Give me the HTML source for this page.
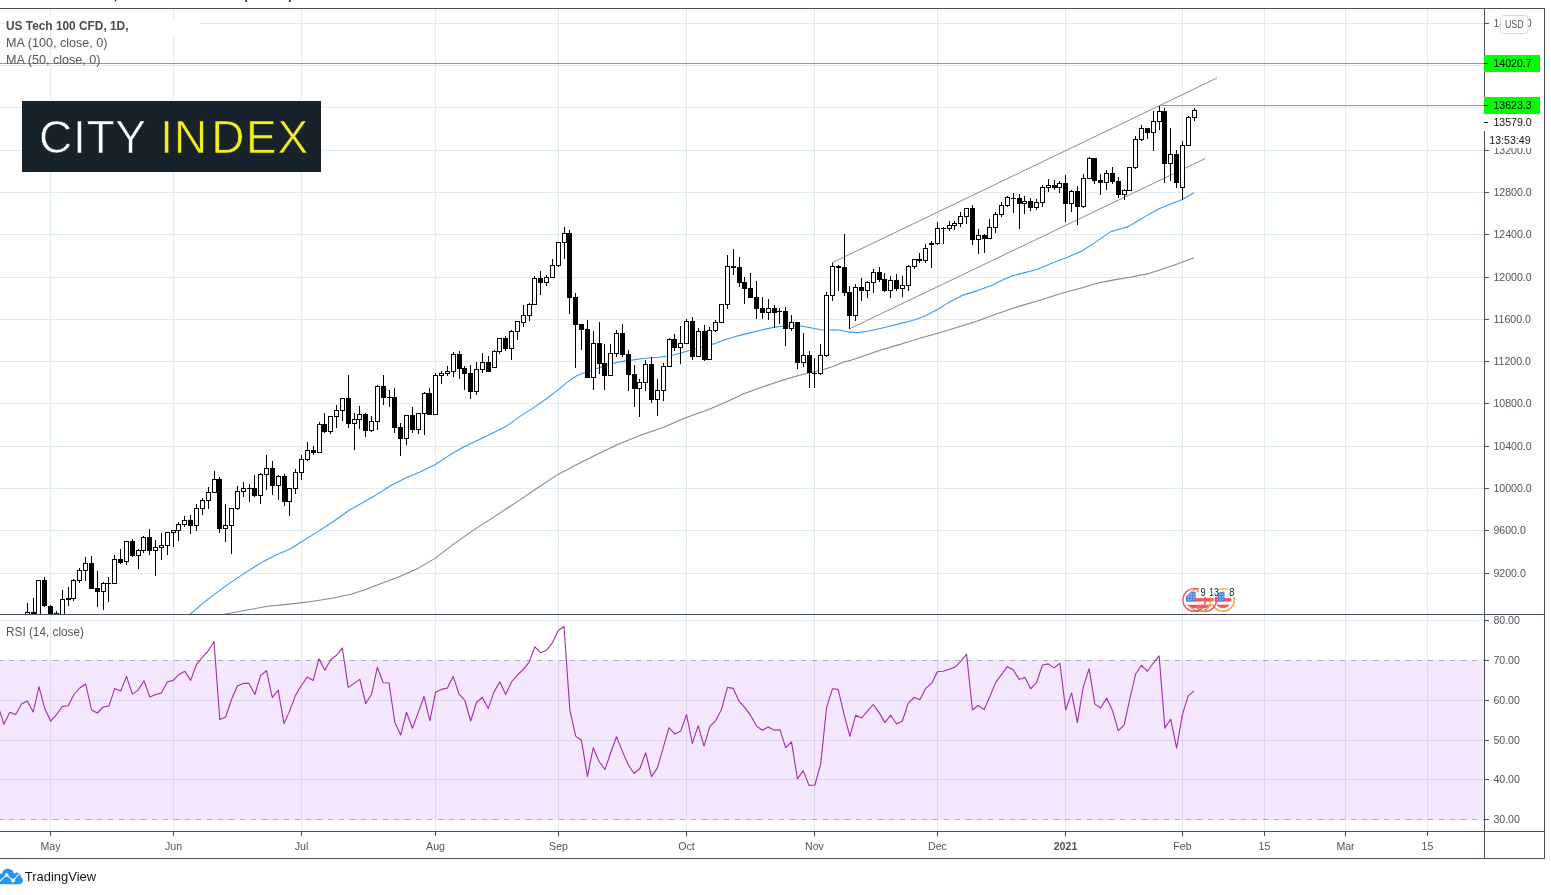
<!DOCTYPE html>
<html><head><meta charset="utf-8"><title>US Tech 100 CFD chart</title>
<style>html,body{margin:0;padding:0;background:#fff}body{width:1551px;height:895px;overflow:hidden}</style></head>
<body>
<svg width="1551" height="895" viewBox="0 0 1551 895" style="display:block;font-family:'Liberation Sans','DejaVu Sans',sans-serif">
<rect width="1551" height="895" fill="#fff"/>
<defs>
<clipPath id="cm"><rect x="0" y="8.5" width="1484.5" height="606.0"/></clipPath>
<clipPath id="cr"><rect x="0" y="614.5" width="1484.5" height="217.0"/></clipPath>
</defs>
<text x="117.5" y="-0.6" font-size="15" font-weight="bold" fill="#222" text-anchor="end">FOREXCOM:NSXUSD,</text>
<text x="243.5" y="-0.6" font-size="15" font-weight="bold" fill="#222" textLength="49" lengthAdjust="spacingAndGlyphs">(+0.97%)</text>
<path d="M50.5 8.5V831.5 M173.5 8.5V831.5 M301.5 8.5V831.5 M435.5 8.5V831.5 M558.5 8.5V831.5 M686.5 8.5V831.5 M814.5 8.5V831.5 M937.5 8.5V831.5 M1065.5 8.5V831.5 M1182.5 8.5V831.5 M1264.5 8.5V831.5 M1345.5 8.5V831.5 M1427.5 8.5V831.5 M0 573.5H1484.5 M0 530.5H1484.5 M0 488.5H1484.5 M0 446.5H1484.5 M0 403.5H1484.5 M0 361.5H1484.5 M0 319.5H1484.5 M0 277.5H1484.5 M0 234.5H1484.5 M0 192.5H1484.5 M0 150.5H1484.5 M0 107.5H1484.5 M0 65.5H1484.5 M0 23.5H1484.5 M0 620.5H1484.5 M0 700.5H1484.5 M0 740.5H1484.5 M0 779.5H1484.5" stroke="#e1ecf2" stroke-width="1" fill="none" shape-rendering="crispEdges"/>
<rect x="0" y="660.5" width="1484.5" height="159.0" fill="rgba(170,60,240,0.12)"/>
<path d="M0 660.5H1484.5M0 819.5H1484.5" stroke="#e1ecf2" stroke-width="1" fill="none" shape-rendering="crispEdges"/>
<path d="M0 660.5H1484.5M0 819.5H1484.5" stroke="#b0a8b6" stroke-width="1" stroke-dasharray="5 6" stroke-dashoffset="2" fill="none" shape-rendering="crispEdges"/>
<g clip-path="url(#cm)">
<path d="M832 262.8L1217 78 M850 328.6L1205.4 158.5" stroke="#8c8c8c" stroke-width="1" fill="none"/>
<path d="M0 63.5H1485 M1160 105.5H1485" stroke="#00ff00" stroke-width="1" fill="none" shape-rendering="crispEdges"/>
<path d="M219.0 615.2 L245.8 610.3 L267.7 606.3 L289.6 604.1 L311.5 601.5 L333.4 598.0 L351.0 594.3 L366.3 589.2 L381.7 583.3 L399.2 576.7 L416.7 569.1 L435.4 558.1 L454.0 543.9 L471.6 531.4 L491.3 518.6 L508.8 507.2 L518.1 501.1 L536.2 488.8 L558.8 473.9 L576.0 464.9 L595.9 454.9 L617.6 444.6 L641.2 435.0 L662.9 427.4 L686.4 417.5 L708.1 409.7 L726.2 402.1 L744.3 393.4 L760.5 387.7 L778.7 381.4 L796.8 376.0 L807.6 373.3 L820.3 370.5 L833.0 366.4 L843.9 362.0 L850.0 360.6 L860.0 357.2 L880.0 350.2 L900.0 344.4 L910.0 341.2 L925.0 336.8 L937.8 333.2 L955.9 327.7 L977.6 320.9 L995.7 314.2 L1010.2 309.3 L1018.8 306.4 L1039.1 300.5 L1062.6 293.0 L1081.4 288.0 L1097.0 283.3 L1112.7 280.1 L1129.9 277.3 L1147.1 273.9 L1164.3 268.4 L1181.5 262.6 L1194.0 257.8" stroke="#85878f" stroke-width="1.1" fill="none" stroke-linejoin="round"/>
<path d="M189.9 614.5 L201.9 604.1 L217.3 592.1 L232.6 581.1 L245.8 572.4 L263.3 561.4 L276.5 554.8 L289.6 549.3 L301.7 541.7 L315.9 532.9 L333.4 521.5 L348.8 510.5 L361.9 502.9 L375.1 495.6 L390.4 485.8 L405.8 478.1 L421.1 471.5 L435.4 464.5 L449.6 455.1 L465.0 446.3 L482.5 438.0 L497.9 430.5 L506.6 426.1 L520.0 416.4 L533.4 407.9 L546.8 398.5 L558.4 389.6 L566.9 382.4 L575.9 376.2 L582.6 373.3 L589.3 371.3 L598.2 367.9 L609.4 364.3 L618.3 362.1 L631.7 360.1 L645.1 358.3 L658.5 357.2 L670.0 355.7 L680.9 353.0 L691.7 349.7 L702.6 347.0 L713.5 343.9 L724.3 340.1 L737.0 336.1 L749.7 332.9 L764.2 329.4 L775.0 327.1 L782.3 326.2 L796.8 325.8 L804.0 326.5 L813.0 328.3 L820.3 329.8 L827.6 330.2 L834.8 329.8 L842.0 330.2 L847.2 331.9 L858.1 332.6 L869.0 331.0 L883.5 327.7 L898.0 324.1 L912.4 320.5 L925.1 316.0 L937.8 309.3 L948.7 302.4 L963.1 295.1 L977.6 290.6 L992.1 285.2 L1003.0 279.7 L1012.5 275.8 L1025.0 272.6 L1037.6 269.2 L1051.6 263.2 L1065.7 257.9 L1081.4 251.2 L1093.9 243.4 L1103.3 236.6 L1111.1 231.6 L1118.9 229.3 L1128.3 226.6 L1137.7 221.0 L1148.6 214.4 L1159.6 208.6 L1172.1 203.5 L1182.3 199.6 L1194.0 192.8" stroke="#3a9af0" stroke-width="1.1" fill="none" stroke-linejoin="round"/>
<path d="M27.5 603V618.0 M33.5 598V618.0 M38.5 580V618.0 M44.5 577V607 M50.5 605V618.0 M56.5 611V618.0 M62.5 590V618.0 M68.5 587V606 M73.5 579V601 M79.5 568V583 M85.5 557V581 M91.5 556V589 M97.5 571V607 M103.5 582V610 M108.5 577V602 M114.5 555V584.0 M120.5 549V564 M126.5 541V565 M132.5 539V557 M138.5 549V569 M143.5 536V553 M149.5 529V555 M155.5 540V576 M161.5 533V560 M167.5 532V555 M173.5 530V547 M178.5 522V541 M184.5 516V527 M190.5 515V534 M196.5 504V531 M202.5 498V515 M208.5 487V509 M214.5 471V493.0 M219.5 477V533 M225.5 504V542 M231.5 508V554 M237.5 486V510 M243.5 482V497 M249.5 484V502 M254.5 475V497 M260.5 473V504 M266.5 455V490 M272.5 461V495 M278.5 475V500 M284.5 474V506 M289.5 488V516 M295.5 469V494 M301.5 455V480 M307.5 442V461 M313.5 446V455 M319.5 422V453.0 M324.5 413V433 M330.5 416V434 M336.5 405V428 M342.5 398V421 M348.5 375V428 M354.5 413V450 M359.5 406V429 M365.5 413V437 M371.5 416V432 M377.5 385V430 M383.5 375V405 M389.5 390V407 M394.5 388V433 M400.5 423V456 M406.5 415V445 M412.5 407V433 M418.5 413.0V434 M424.5 392V435 M429.5 388V415.0 M435.5 373V415.0 M441.5 371V384 M447.5 366V376 M453.5 352V377 M459.5 351V379 M464.5 366V390 M470.5 365V399 M476.5 362V395 M482.5 353V373 M488.5 356V372 M494.5 350V368 M499.5 338V354 M505.5 336V351 M511.5 330V360 M517.5 321V340 M523.5 305V327 M529.5 303V321 M534.5 276V305 M540.5 271V295 M546.5 275V286 M552.5 259V278.0 M558.5 242V267 M564.5 227V259 M569.5 230V314 M575.5 293V368 M581.5 324V350 M587.5 320V378 M593.5 331V390 M599.5 322V374 M604.5 344V390 M610.5 344V376 M616.5 330V357 M622.5 324V357 M628.5 350V391 M634.5 365V407 M639.5 379V417 M645.5 360V391 M651.5 357V403 M657.5 379V416 M663.5 363V401 M669.5 338V367 M674.5 334V351 M680.5 326V364 M686.5 319V344.0 M692.5 317V360 M698.5 328V357 M704.5 325V361 M709.5 327V360 M715.5 320V332 M721.5 304V323 M727.5 255V309 M733.5 249V275 M739.5 257V287 M744.5 277V304 M750.5 273V298 M756.5 281V319 M762.5 297V319 M768.5 299V320 M774.5 305V328 M779.5 308V324 M785.5 307V346 M791.5 315V331 M797.5 322V369 M803.5 333V367 M809.5 351V388 M814.5 358V388 M820.5 344V375 M826.5 292V357 M832.5 263V301 M838.5 265V291 M844.5 234V296 M849.5 286V329 M855.5 284V321 M861.5 278V301 M867.5 281V298 M873.5 269V293 M879.5 267V282 M884.5 273V292 M890.5 276V298 M896.5 274V291 M902.5 276V297 M908.5 265V291 M914.5 259V269 M919.5 253V263 M925.5 244V263 M931.5 241V268 M937.5 222V245 M943.5 227V244 M949.5 221V231 M954.5 221V230 M960.5 212V227 M966.5 208V224 M972.5 205V245 M978.5 229V254 M984.5 234V253 M989.5 219V239 M995.5 212V233 M1001.5 202V217 M1007.5 196V207 M1013.5 193V213 M1019.5 194V229 M1024.5 196V214 M1030.5 198V211 M1036.5 199V210 M1042.5 185V207 M1048.5 179V192 M1054.5 180V190 M1059.5 181V193 M1065.5 175V222 M1071.5 190V212 M1077.5 186V225 M1083.5 174V208 M1089.5 157V179 M1094.5 158V184 M1100.5 174V195 M1106.5 170V190 M1112.5 167V184 M1118.5 177V198 M1124.5 189V200 M1129.5 167V191 M1135.5 136V169 M1141.5 125V141 M1147.5 128V139 M1153.5 111V151 M1159.5 106V130 M1164.5 108V183 M1170.5 128V181 M1176.5 150V188 M1182.5 141V200 M1188.5 116V146.0 M1194.5 108V121" stroke="#000" stroke-width="1" fill="none" shape-rendering="crispEdges"/>
<path d="M106.0 583.5h5 M247.0 488.5h5 M387.0 397.5h5 M777.0 311.5h5 M812.0 373.5h5 M941.0 228.5h5 M1011.0 198.5h5" stroke="#000" stroke-width="1" fill="none" shape-rendering="crispEdges"/>
<path d="M25.5 612.5h4v5.0h-4z M36.5 580.5h4v37.0h-4z M60.5 599.5h4v18.0h-4z M71.5 580.5h4v18.0h-4z M77.5 570.5h4v10.0h-4z M83.5 563.5h4v7.0h-4z M101.5 583.5h4v8.0h-4z M112.5 559.5h4v24.0h-4z M124.5 541.5h4v20.0h-4z M136.5 550.5h4v5.0h-4z M141.5 537.5h4v13.0h-4z M153.5 547.5h4v3.0h-4z M159.5 545.5h4v2.0h-4z M165.5 532.5h4v13.0h-4z M171.5 530.5h4v2.0h-4z M176.5 524.5h4v6.0h-4z M182.5 520.5h4v4.0h-4z M194.5 508.5h4v17.0h-4z M200.5 500.5h4v8.0h-4z M206.5 492.5h4v8.0h-4z M212.5 479.5h4v13.0h-4z M223.5 525.5h4v3.0h-4z M229.5 508.5h4v17.0h-4z M235.5 491.5h4v17.0h-4z M241.5 488.5h4v3.0h-4z M258.5 474.5h4v21.0h-4z M264.5 468.5h4v6.0h-4z M276.5 476.5h4v9.0h-4z M287.5 488.5h4v13.0h-4z M293.5 472.5h4v16.0h-4z M299.5 459.5h4v13.0h-4z M305.5 450.5h4v9.0h-4z M317.5 424.5h4v28.0h-4z M328.5 416.5h4v15.0h-4z M334.5 410.5h4v6.0h-4z M340.5 398.5h4v12.0h-4z M352.5 419.5h4v4.0h-4z M357.5 414.5h4v5.0h-4z M369.5 421.5h4v9.0h-4z M375.5 386.5h4v35.0h-4z M404.5 415.5h4v23.0h-4z M416.5 413.5h4v16.0h-4z M422.5 393.5h4v20.0h-4z M433.5 375.5h4v39.0h-4z M439.5 373.5h4v2.0h-4z M445.5 371.5h4v2.0h-4z M451.5 354.5h4v17.0h-4z M474.5 369.5h4v22.0h-4z M480.5 362.5h4v7.0h-4z M492.5 351.5h4v16.0h-4z M497.5 338.5h4v13.0h-4z M509.5 331.5h4v17.0h-4z M515.5 321.5h4v10.0h-4z M521.5 315.5h4v7.0h-4z M527.5 304.5h4v11.0h-4z M532.5 278.5h4v26.0h-4z M544.5 277.5h4v5.0h-4z M550.5 265.5h4v12.0h-4z M556.5 242.5h4v23.0h-4z M562.5 233.5h4v9.0h-4z M591.5 343.5h4v34.0h-4z M608.5 353.5h4v22.0h-4z M614.5 333.5h4v20.0h-4z M637.5 382.5h4v6.0h-4z M643.5 364.5h4v18.0h-4z M655.5 390.5h4v9.0h-4z M661.5 366.5h4v24.0h-4z M667.5 339.5h4v27.0h-4z M678.5 343.5h4v4.0h-4z M684.5 321.5h4v22.0h-4z M696.5 331.5h4v25.0h-4z M707.5 330.5h4v29.0h-4z M713.5 322.5h4v8.0h-4z M719.5 304.5h4v18.0h-4z M725.5 266.5h4v38.0h-4z M766.5 308.5h4v4.0h-4z M789.5 322.5h4v6.0h-4z M801.5 355.5h4v7.0h-4z M818.5 355.5h4v18.0h-4z M824.5 295.5h4v60.0h-4z M830.5 266.5h4v29.0h-4z M853.5 287.5h4v28.0h-4z M865.5 282.5h4v8.0h-4z M871.5 272.5h4v10.0h-4z M888.5 280.5h4v10.0h-4z M900.5 285.5h4v3.0h-4z M906.5 266.5h4v19.0h-4z M912.5 259.5h4v7.0h-4z M923.5 248.5h4v12.0h-4z M935.5 228.5h4v15.0h-4z M947.5 225.5h4v3.0h-4z M952.5 223.5h4v2.0h-4z M958.5 216.5h4v7.0h-4z M964.5 208.5h4v8.0h-4z M976.5 235.5h4v4.0h-4z M987.5 227.5h4v11.0h-4z M993.5 214.5h4v13.0h-4z M999.5 205.5h4v9.0h-4z M1005.5 197.5h4v8.0h-4z M1022.5 201.5h4v2.0h-4z M1034.5 202.5h4v5.0h-4z M1040.5 187.5h4v15.0h-4z M1046.5 185.5h4v2.0h-4z M1057.5 183.5h4v4.0h-4z M1069.5 191.5h4v12.0h-4z M1081.5 178.5h4v28.0h-4z M1087.5 158.5h4v20.0h-4z M1104.5 173.5h4v9.0h-4z M1122.5 190.5h4v4.0h-4z M1127.5 167.5h4v23.0h-4z M1133.5 139.5h4v28.0h-4z M1139.5 128.5h4v11.0h-4z M1151.5 121.5h4v11.0h-4z M1157.5 111.5h4v10.0h-4z M1168.5 154.5h4v9.0h-4z M1180.5 145.5h4v42.0h-4z M1186.5 117.5h4v28.0h-4z M1192.5 110.5h4v7.0h-4z" stroke="#000" stroke-width="1" fill="#fff" shape-rendering="crispEdges"/>
<path d="M31.5 612.5h4v5.0h-4z M42.5 580.5h4v25.0h-4z M48.5 606.5h4v11.0h-4z M54.5 613.5h4v4.0h-4z M66.5 598.5h4v1.0h-4z M89.5 563.5h4v25.0h-4z M95.5 588.5h4v3.0h-4z M118.5 559.5h4v3.0h-4z M130.5 541.5h4v14.0h-4z M147.5 537.5h4v13.0h-4z M188.5 520.5h4v5.0h-4z M217.5 479.5h4v49.0h-4z M252.5 488.5h4v7.0h-4z M270.5 468.5h4v17.0h-4z M282.5 476.5h4v25.0h-4z M311.5 450.5h4v2.0h-4z M322.5 424.5h4v7.0h-4z M346.5 398.5h4v25.0h-4z M363.5 414.5h4v16.0h-4z M381.5 386.5h4v11.0h-4z M392.5 397.5h4v30.0h-4z M398.5 427.5h4v11.0h-4z M410.5 415.5h4v14.0h-4z M427.5 393.5h4v21.0h-4z M457.5 354.5h4v14.0h-4z M462.5 368.5h4v5.0h-4z M468.5 373.5h4v18.0h-4z M486.5 362.5h4v9.0h-4z M503.5 338.5h4v10.0h-4z M538.5 278.5h4v4.0h-4z M567.5 233.5h4v64.0h-4z M573.5 297.5h4v27.0h-4z M579.5 324.5h4v5.0h-4z M585.5 329.5h4v48.0h-4z M597.5 343.5h4v20.0h-4z M602.5 363.5h4v12.0h-4z M620.5 333.5h4v21.0h-4z M626.5 354.5h4v20.0h-4z M632.5 374.5h4v14.0h-4z M649.5 364.5h4v35.0h-4z M672.5 339.5h4v8.0h-4z M690.5 321.5h4v35.0h-4z M702.5 331.5h4v28.0h-4z M731.5 266.5h4v1.0h-4z M737.5 267.5h4v15.0h-4z M742.5 282.5h4v6.0h-4z M748.5 288.5h4v9.0h-4z M754.5 297.5h4v11.0h-4z M760.5 308.5h4v4.0h-4z M772.5 308.5h4v4.0h-4z M783.5 311.5h4v17.0h-4z M795.5 322.5h4v40.0h-4z M807.5 355.5h4v17.0h-4z M836.5 266.5h4v1.0h-4z M842.5 267.5h4v25.0h-4z M847.5 292.5h4v23.0h-4z M859.5 287.5h4v3.0h-4z M877.5 272.5h4v7.0h-4z M882.5 279.5h4v11.0h-4z M894.5 280.5h4v8.0h-4z M917.5 259.5h4v1.0h-4z M929.5 243.5h4v1.0h-4z M970.5 208.5h4v31.0h-4z M982.5 235.5h4v3.0h-4z M1017.5 198.5h4v5.0h-4z M1028.5 201.5h4v6.0h-4z M1052.5 185.5h4v2.0h-4z M1063.5 183.5h4v20.0h-4z M1075.5 191.5h4v15.0h-4z M1092.5 158.5h4v22.0h-4z M1098.5 180.5h4v2.0h-4z M1110.5 173.5h4v8.0h-4z M1116.5 181.5h4v13.0h-4z M1145.5 128.5h4v4.0h-4z M1162.5 111.5h4v52.0h-4z M1174.5 154.5h4v28.0h-4z" stroke="#000" stroke-width="1" fill="#000" shape-rendering="crispEdges"/>
</g>
<g clip-path="url(#cr)">
<path d="M-1.8 706.5 L4.0 724.3 L9.8 712.2 L15.7 714.6 L21.5 704.1 L27.3 701.1 L33.2 712.0 L39.0 686.8 L44.8 708.6 L50.7 721.2 L56.5 714.6 L62.3 706.5 L68.2 705.7 L74.0 694.5 L79.8 688.0 L85.7 684.0 L91.5 710.0 L97.3 713.0 L103.2 707.0 L109.0 705.9 L114.8 688.4 L120.7 691.1 L126.5 676.4 L132.3 694.1 L138.2 690.1 L144.0 680.8 L149.8 696.9 L155.7 694.5 L161.5 692.9 L167.3 682.0 L173.2 680.4 L179.0 674.4 L184.8 671.3 L190.7 680.4 L196.5 664.3 L202.3 657.3 L208.2 650.8 L214.0 641.8 L219.8 719.6 L225.7 717.0 L231.5 699.5 L237.3 686.0 L243.2 683.4 L249.0 683.4 L254.8 694.5 L260.7 675.4 L266.5 670.7 L272.3 697.5 L278.2 690.1 L284.0 723.6 L289.8 710.6 L295.7 694.9 L301.5 685.2 L307.3 677.0 L313.2 680.4 L319.0 658.7 L324.8 670.3 L330.7 659.7 L336.5 655.3 L342.3 647.8 L348.2 687.4 L354.0 683.4 L359.8 679.4 L365.7 703.5 L371.5 694.5 L377.3 667.3 L383.2 682.8 L389.0 683.0 L394.8 722.2 L400.7 735.1 L406.5 712.2 L412.4 728.3 L418.2 712.6 L424.0 696.5 L429.9 720.6 L435.7 691.9 L441.5 689.4 L447.4 688.0 L453.2 676.4 L459.0 694.1 L464.9 700.5 L470.7 721.0 L476.5 702.5 L482.4 697.5 L488.2 708.6 L494.0 691.9 L499.9 681.8 L505.7 694.5 L511.5 682.0 L517.4 675.0 L523.2 669.7 L529.0 662.3 L534.9 646.8 L540.7 652.8 L546.5 650.2 L552.4 642.8 L558.2 630.5 L564.0 626.5 L569.9 710.6 L575.7 736.1 L581.5 740.3 L587.4 776.6 L593.2 747.8 L599.0 761.3 L604.9 769.5 L610.7 752.8 L616.5 736.7 L622.4 751.4 L628.2 764.5 L634.0 773.5 L639.9 768.5 L645.7 752.8 L651.5 776.6 L657.4 767.9 L663.2 747.8 L669.0 727.7 L674.9 734.1 L680.7 731.1 L686.5 714.6 L692.4 743.4 L698.2 725.7 L704.0 746.2 L709.9 726.3 L715.7 720.6 L721.5 709.6 L727.4 687.4 L733.2 688.4 L739.0 701.1 L744.9 707.6 L750.7 715.6 L756.5 726.1 L762.4 730.3 L768.2 727.1 L774.0 730.1 L779.9 729.7 L785.7 747.8 L791.5 741.8 L797.4 778.6 L803.2 770.9 L809.0 785.4 L814.9 785.0 L820.7 763.9 L826.6 707.6 L832.4 688.8 L838.2 689.4 L844.1 714.6 L849.9 736.3 L855.7 715.2 L861.6 718.0 L867.4 711.2 L873.2 704.5 L879.1 712.6 L884.9 722.6 L890.7 715.2 L896.6 724.0 L902.4 721.0 L908.2 703.1 L914.1 697.5 L919.9 699.5 L925.7 688.4 L931.6 683.4 L937.4 671.7 L943.2 671.3 L949.1 669.3 L954.9 667.3 L960.7 661.3 L966.6 654.2 L972.4 710.0 L978.2 705.5 L984.1 709.6 L989.9 696.5 L995.7 682.4 L1001.6 674.4 L1007.4 666.7 L1013.2 669.7 L1019.1 679.4 L1024.9 677.4 L1030.7 688.8 L1036.6 682.4 L1042.4 665.3 L1048.2 663.9 L1054.1 667.9 L1059.9 663.3 L1065.7 710.0 L1071.6 692.9 L1077.4 722.6 L1083.2 687.4 L1089.1 668.7 L1094.9 704.1 L1100.7 708.0 L1106.6 698.1 L1112.4 710.2 L1118.2 730.7 L1124.1 725.1 L1129.9 698.5 L1135.7 673.8 L1141.6 665.3 L1147.4 671.3 L1153.2 663.3 L1159.1 655.9 L1164.9 728.1 L1170.7 719.2 L1176.6 748.2 L1182.4 714.6 L1188.2 695.9 L1194.1 690.9" stroke="#a12daa" stroke-width="1.1" fill="none" stroke-linejoin="round"/>
</g>
<clipPath id="f1"><circle cx="1223" cy="599.9" r="8.4"/></clipPath><g clip-path="url(#f1)"><rect x="1214" y="590.9" width="18" height="18" fill="#fff"/><rect x="1214" y="598.1" width="18" height="3.4" fill="#ef5360"/><rect x="1214" y="604.7" width="18" height="3.4" fill="#ef5360"/><rect x="1214" y="591.5" width="10.5" height="10" fill="#4a86dc"/><path d="M1216.8 594.1h1.2 M1219.4 594.1h1.2 M1222.0 594.1h1.2 M1216.8 596.9h1.2 M1219.4 596.9h1.2 M1222.0 596.9h1.2 M1216.8 599.7h1.2 M1219.4 599.7h1.2 M1222.0 599.7h1.2" stroke="#cfe0f8" stroke-width="1.1"/></g><circle cx="1223" cy="599.9" r="11.3" fill="none" stroke="#f7a035" stroke-width="1.4"/>
<clipPath id="f2"><circle cx="1205.2" cy="599.9" r="8.4"/></clipPath><g clip-path="url(#f2)"><rect x="1196.2" y="590.9" width="18" height="18" fill="#fff"/><rect x="1196.2" y="598.1" width="18" height="3.4" fill="#ef5360"/><rect x="1196.2" y="604.7" width="18" height="3.4" fill="#ef5360"/><rect x="1196.2" y="591.5" width="10.5" height="10" fill="#4a86dc"/><path d="M1199.0 594.1h1.2 M1201.6 594.1h1.2 M1204.2 594.1h1.2 M1199.0 596.9h1.2 M1201.6 596.9h1.2 M1204.2 596.9h1.2 M1199.0 599.7h1.2 M1201.6 599.7h1.2 M1204.2 599.7h1.2" stroke="#cfe0f8" stroke-width="1.1"/></g><circle cx="1205.2" cy="599.9" r="11.3" fill="none" stroke="#f7525f" stroke-width="1.4"/>
<clipPath id="f3"><circle cx="1199.6" cy="599.9" r="8.4"/></clipPath><g clip-path="url(#f3)"><rect x="1190.6" y="590.9" width="18" height="18" fill="#fff"/><rect x="1190.6" y="598.1" width="18" height="3.4" fill="#ef5360"/><rect x="1190.6" y="604.7" width="18" height="3.4" fill="#ef5360"/><rect x="1190.6" y="591.5" width="10.5" height="10" fill="#4a86dc"/><path d="M1193.4 594.1h1.2 M1196.0 594.1h1.2 M1198.6 594.1h1.2 M1193.4 596.9h1.2 M1196.0 596.9h1.2 M1198.6 596.9h1.2 M1193.4 599.7h1.2 M1196.0 599.7h1.2 M1198.6 599.7h1.2" stroke="#cfe0f8" stroke-width="1.1"/></g><circle cx="1199.6" cy="599.9" r="11.3" fill="none" stroke="#f7a035" stroke-width="1.4"/>
<clipPath id="f4"><circle cx="1194.2" cy="599.9" r="8.4"/></clipPath><g clip-path="url(#f4)"><rect x="1185.2" y="590.9" width="18" height="18" fill="#fff"/><rect x="1185.2" y="598.1" width="18" height="3.4" fill="#ef5360"/><rect x="1185.2" y="604.7" width="18" height="3.4" fill="#ef5360"/><rect x="1185.2" y="591.5" width="10.5" height="10" fill="#4a86dc"/><path d="M1188.0 594.1h1.2 M1190.6 594.1h1.2 M1193.2 594.1h1.2 M1188.0 596.9h1.2 M1190.6 596.9h1.2 M1193.2 596.9h1.2 M1188.0 599.7h1.2 M1190.6 599.7h1.2 M1193.2 599.7h1.2" stroke="#cfe0f8" stroke-width="1.1"/></g><circle cx="1194.2" cy="599.9" r="11.3" fill="none" stroke="#f7525f" stroke-width="1.4"/>
<rect x="1198.6" y="586.6" width="9.2" height="10.6" rx="3" fill="#fff"/>
<text x="1200.4" y="596.2" font-size="10.6" fill="#222" textLength="5.2" lengthAdjust="spacingAndGlyphs">9</text>
<rect x="1207.4" y="586.6" width="10.4" height="10.6" rx="3" fill="#fff"/>
<text x="1209.2" y="596.2" font-size="10.6" fill="#222" textLength="9.4" lengthAdjust="spacingAndGlyphs">13</text>
<rect x="1227.6" y="586.6" width="8.2" height="10.6" rx="3" fill="#fff"/>
<text x="1229.2" y="596.2" font-size="10.6" fill="#222" textLength="5.2" lengthAdjust="spacingAndGlyphs">8</text>
<rect x="1484.5" y="8.5" width="60.0" height="850.0" fill="#fff"/>
<rect x="0" y="831.5" width="1544.5" height="27.0" fill="#fff"/>
<text x="1493.4" y="577.0" font-size="10.6" fill="#50535e">9200.0</text>
<text x="1493.4" y="534.0" font-size="10.6" fill="#50535e">9600.0</text>
<text x="1493.4" y="492.0" font-size="10.6" fill="#50535e">10000.0</text>
<text x="1493.4" y="450.0" font-size="10.6" fill="#50535e">10400.0</text>
<text x="1493.4" y="407.0" font-size="10.6" fill="#50535e">10800.0</text>
<text x="1493.4" y="365.0" font-size="10.6" fill="#50535e">11200.0</text>
<text x="1493.4" y="323.0" font-size="10.6" fill="#50535e">11600.0</text>
<text x="1493.4" y="281.0" font-size="10.6" fill="#50535e">12000.0</text>
<text x="1493.4" y="238.0" font-size="10.6" fill="#50535e">12400.0</text>
<text x="1493.4" y="196.0" font-size="10.6" fill="#50535e">12800.0</text>
<text x="1493.4" y="154.0" font-size="10.6" fill="#50535e">13200.0</text>
<text x="1493.4" y="111.0" font-size="10.6" fill="#50535e">13600.0</text>
<text x="1493.4" y="69.0" font-size="10.6" fill="#50535e">14000.0</text>
<text x="1493.4" y="27.0" font-size="10.6" fill="#50535e">14400.0</text>
<text x="1493.4" y="624.0" font-size="10.6" fill="#50535e">80.00</text>
<text x="1493.4" y="664.0" font-size="10.6" fill="#50535e">70.00</text>
<text x="1493.4" y="704.0" font-size="10.6" fill="#50535e">60.00</text>
<text x="1493.4" y="744.0" font-size="10.6" fill="#50535e">50.00</text>
<text x="1493.4" y="783.0" font-size="10.6" fill="#50535e">40.00</text>
<text x="1493.4" y="823.0" font-size="10.6" fill="#50535e">30.00</text>
<path d="M1484.5 573.5h4.5 M1484.5 530.5h4.5 M1484.5 488.5h4.5 M1484.5 446.5h4.5 M1484.5 403.5h4.5 M1484.5 361.5h4.5 M1484.5 319.5h4.5 M1484.5 277.5h4.5 M1484.5 234.5h4.5 M1484.5 192.5h4.5 M1484.5 150.5h4.5 M1484.5 107.5h4.5 M1484.5 65.5h4.5 M1484.5 23.5h4.5 M1484.5 620.5h4.5 M1484.5 660.5h4.5 M1484.5 700.5h4.5 M1484.5 740.5h4.5 M1484.5 779.5h4.5 M1484.5 819.5h4.5" stroke="#4a4e5a" stroke-width="1" fill="none" shape-rendering="crispEdges"/>
<rect x="1500.5" y="15.5" width="27.5" height="18" rx="3.5" fill="#fff" stroke="#d5d8df" stroke-width="1"/>
<text x="1505" y="28" font-size="10.6" fill="#50535e" textLength="18.6" lengthAdjust="spacingAndGlyphs">USD</text>
<text x="50.5" y="850" font-size="10.6" fill="#50535e" text-anchor="middle">May</text>
<text x="173.5" y="850" font-size="10.6" fill="#50535e" text-anchor="middle">Jun</text>
<text x="301.5" y="850" font-size="10.6" fill="#50535e" text-anchor="middle">Jul</text>
<text x="435.5" y="850" font-size="10.6" fill="#50535e" text-anchor="middle">Aug</text>
<text x="558.5" y="850" font-size="10.6" fill="#50535e" text-anchor="middle">Sep</text>
<text x="686.5" y="850" font-size="10.6" fill="#50535e" text-anchor="middle">Oct</text>
<text x="814.5" y="850" font-size="10.6" fill="#50535e" text-anchor="middle">Nov</text>
<text x="937.5" y="850" font-size="10.6" fill="#50535e" text-anchor="middle">Dec</text>
<text x="1065.5" y="850" font-size="10.6" fill="#50535e" text-anchor="middle" font-weight="bold">2021</text>
<text x="1182.5" y="850" font-size="10.6" fill="#50535e" text-anchor="middle">Feb</text>
<text x="1264.5" y="850" font-size="10.6" fill="#50535e" text-anchor="middle">15</text>
<text x="1345.5" y="850" font-size="10.6" fill="#50535e" text-anchor="middle">Mar</text>
<text x="1427.5" y="850" font-size="10.6" fill="#50535e" text-anchor="middle">15</text>
<path d="M50.5 831.5v4 M173.5 831.5v4 M301.5 831.5v4 M435.5 831.5v4 M558.5 831.5v4 M686.5 831.5v4 M814.5 831.5v4 M937.5 831.5v4 M1065.5 831.5v4 M1182.5 831.5v4 M1264.5 831.5v4 M1345.5 831.5v4 M1427.5 831.5v4" stroke="#4a4e5a" stroke-width="1" fill="none" shape-rendering="crispEdges"/>
<path d="M0 8.5H1545.0 M0 614.5H1544.5 M0 831.5H1544.5 M0 858.5H1545.0 M1484.5 8.5V858.5 M1544.5 8.5V858.5" stroke="#4a4e5a" stroke-width="1.2" fill="none" shape-rendering="crispEdges"/>
<rect x="1485" y="131" width="56" height="17" fill="#fff"/>
<rect x="1483.5" y="114" width="57" height="17" fill="#fff"/>
<path d="M1484 122.5h4" stroke="#000" stroke-width="1" shape-rendering="crispEdges"/>
<text x="1493.4" y="126" font-size="10.6" fill="#111">13579.0</text>
<text x="1489.3" y="143.8" font-size="10.6" fill="#111">13:53:49</text>
<rect x="1484" y="55.0" width="56" height="17" fill="#00ff00"/>
<path d="M1484 63.5h4" stroke="#000" stroke-width="1" shape-rendering="crispEdges"/>
<text x="1493.4" y="67.2" font-size="10.6" fill="#000">14020.7</text>
<rect x="1484" y="97.0" width="56" height="17" fill="#00ff00"/>
<path d="M1484 105.5h4" stroke="#000" stroke-width="1" shape-rendering="crispEdges"/>
<text x="1493.4" y="109.2" font-size="10.6" fill="#000">13623.3</text>
<rect x="7" y="19.5" width="193" height="17" fill="#fff"/>
<path d="M50.5 19V37" stroke="#e1ecf2" stroke-width="1" fill="none" shape-rendering="crispEdges"/>
<text x="6" y="29.5" font-size="13" font-weight="bold" fill="#4a4a4a" textLength="122.5" lengthAdjust="spacingAndGlyphs">US Tech 100 CFD, 1D,</text>
<text x="6" y="46.5" font-size="12.6" fill="#555">MA (100, close, 0)</text>
<text x="6" y="63.5" font-size="12.6" fill="#555">MA (50, close, 0)</text>
<text x="6" y="636" font-size="12.6" fill="#555" textLength="78" lengthAdjust="spacingAndGlyphs">RSI (14, close)</text>
<rect x="22" y="101" width="299" height="71" fill="#18222b"/>
<text x="38.9 73.0 86.8 115.2" y="152.6" font-size="46" fill="#fff" stroke="#18222b" stroke-width="0.7">CITY</text>
<text x="160.3 174.0 211.2 246.1 277.4" y="152.6" font-size="46" fill="#f5ee1e" stroke="#18222b" stroke-width="0.7">INDEX</text>
<path d="M-3 884.2H19.3A3.8 3.8 0 0 0 20.6 876.9A3.7 3.7 0 0 0 14.1 873.9A6.2 6.2 0 0 0 2 873.4A5 5 0 0 0 -3 878Z" fill="#2196f3"/>
<path d="M-1 881.8L6.7 874.9L13.1 880.6L19.4 873.5" stroke="#fff" stroke-width="1.1" fill="none"/>
<circle cx="6.7" cy="874.9" r="1.8" fill="#fff"/><circle cx="13.1" cy="880.6" r="2" fill="#fff"/>
<text x="24.8" y="880.9" font-size="12.6" fill="#131722" textLength="71.3" lengthAdjust="spacingAndGlyphs">TradingView</text>
</svg>
</body></html>
